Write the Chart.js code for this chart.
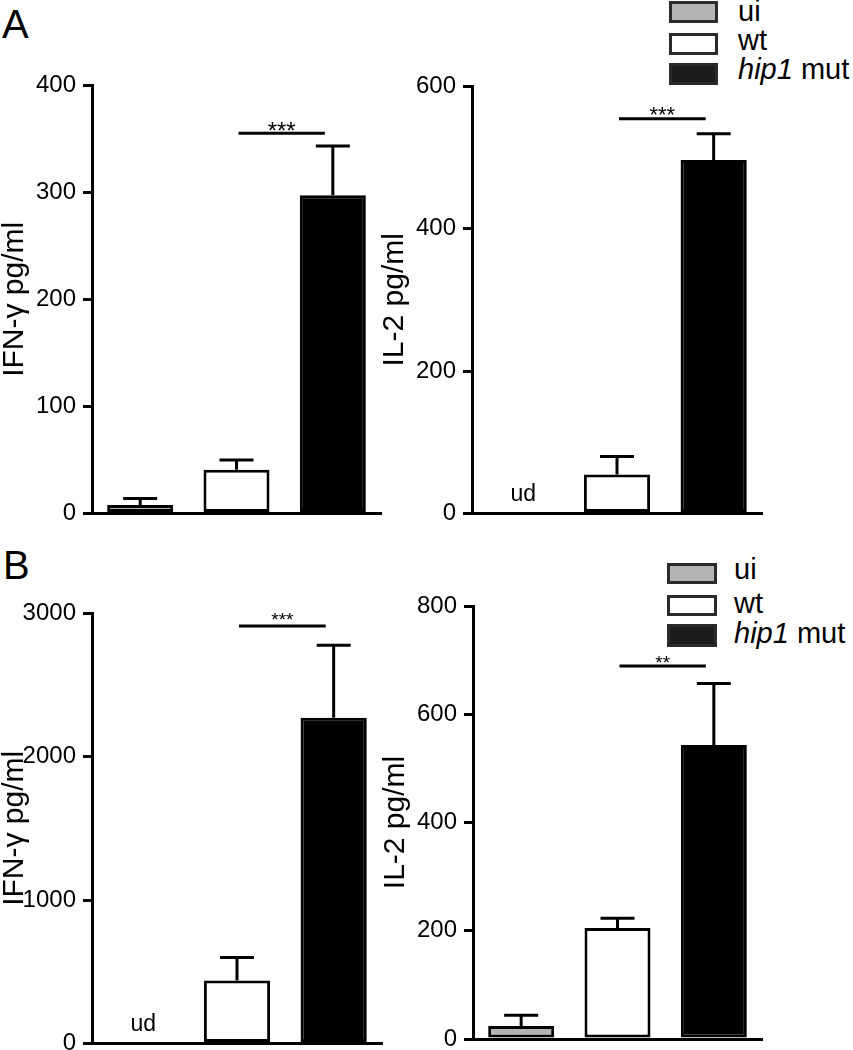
<!DOCTYPE html>
<html>
<head>
<meta charset="utf-8">
<script src="https://cdn.jsdelivr.net/npm/chart.js@4.4.0/dist/chart.umd.min.js"></script>
<style>
  body { margin: 0; width: 853px; height: 1050px; position: relative; overflow: hidden; background: #fff;
         font-family: "Liberation Sans", Arial, Helvetica, sans-serif; color: #000; }
  canvas { position: absolute; }
  .letter { position: absolute; font-size: 40px; line-height: 40px; }
  .lbox { position: absolute; box-sizing: border-box; border: 3px solid #2b2b2b; }
  .ltext { position: absolute; font-size: 29px; line-height: 29px; white-space: nowrap; }
</style>
</head>
<body>
<div class="letter" style="left:2px;top:4px">A</div>
<div class="letter" style="left:3px;top:545px">B</div>

<!-- legends -->
<div class="lbox" style="left:669px;top:1px;width:49px;height:22px;background:#b4b4b4"></div>
<div class="lbox" style="left:669px;top:33px;width:49px;height:22px;background:#fff"></div>
<div class="lbox" style="left:669px;top:63px;width:49px;height:22px;background:#1c1c1c"></div>
<div class="ltext" style="left:738px;top:-3px">ui</div>
<div class="ltext" style="left:738px;top:26px">wt</div>
<div class="ltext" style="left:738px;top:55px"><i>hip1</i> mut</div>

<div class="lbox" style="left:667px;top:563px;width:50px;height:21px;background:#b4b4b4"></div>
<div class="lbox" style="left:667px;top:595px;width:50px;height:21px;background:#fff"></div>
<div class="lbox" style="left:667px;top:624px;width:50px;height:23px;background:#1c1c1c"></div>
<div class="ltext" style="left:734px;top:555px">ui</div>
<div class="ltext" style="left:734px;top:589px">wt</div>
<div class="ltext" style="left:734px;top:619px"><i>hip1</i> mut</div>

<script>
// ─── Data ────────────────────────────────────────────────
const groups = ["ui", "wt", "hip1 mut"];

// panel A
const ifnA     = [8, 41, 297];
const ifnAErr  = [6, 9, 46];
const ifnATicks = [0, 100, 200, 300, 400];
const il2A     = [null, 55, 496];       // null = ud (undetected)
const il2AErr  = [null, 25, 37];
const il2ATicks = [0, 200, 400, 600];

// panel B
const ifnB     = [null, 440, 2270];
const ifnBErr  = [null, 160, 505];
const ifnBTicks = [0, 1000, 2000, 3000];
const il2B     = [24, 205, 543];
const il2BErr  = [20, 18, 114];
const il2BTicks = [0, 200, 400, 600, 800];

// significance bars: [from group, to group, height in axis units, label]
const sigIfnA = [1, 2, 355, "***"];
const sigIl2A = [1, 2, 554, "***"];
const sigIfnB = [1, 2, 2910, "***"];
const sigIl2B = [1, 2, 689, "**"];

// ─── Style ───────────────────────────────────────────────
const FONT = "'Liberation Sans', Arial, Helvetica, sans-serif";
const fills = ["#b4b4b4", "#ffffff", "#000000"];

// error bars, significance line, "ud" labels
const extras = {
  id: "extras",
  afterDatasetsDraw(chart, args, o) {
    const { ctx } = chart;
    const x = chart.scales.x, y = chart.scales.y;
    ctx.save();
    ctx.strokeStyle = "#000";
    ctx.fillStyle = "#000";
    ctx.lineWidth = 3;
    o.values.forEach((v, i) => {
      const cx = x.getPixelForValue(i);
      if (v === null) {
        ctx.font = "23px " + FONT;
        ctx.textAlign = "center";
        ctx.textBaseline = "alphabetic";
        ctx.fillText("ud", cx + 3, y.getPixelForValue(0) - 13);
        return;
      }
      const top = y.getPixelForValue(v + o.errors[i]);
      ctx.beginPath();
      ctx.moveTo(cx, y.getPixelForValue(v));
      ctx.lineTo(cx, top);
      ctx.moveTo(cx - 17, top);
      ctx.lineTo(cx + 17, top);
      ctx.stroke();
    });
    const [from, to, level, label] = o.sig;
    const ly = y.getPixelForValue(level);
    const x1 = x.getPixelForValue(from) + 2, x2 = x.getPixelForValue(to) - 8;
    ctx.beginPath();
    ctx.moveTo(x1, ly);
    ctx.lineTo(x2, ly);
    ctx.stroke();
    ctx.font = o.starSize + "px " + FONT;
    ctx.textAlign = "center";
    ctx.textBaseline = "alphabetic";
    ctx.fillText(label, (x1 + x2) / 2, ly - o.starGap + o.starSize * 0.56);
    ctx.restore();
  }
};

function makeChart(p) {
  const cv = document.createElement("canvas");
  cv.width = p.w;
  cv.height = p.h;
  cv.style.left = p.x + "px";
  cv.style.top = p.y + "px";
  document.body.appendChild(cv);

  new Chart(cv, {
    type: "bar",
    data: {
      labels: groups,
      datasets: [{
        data: p.values,
        backgroundColor: fills,
        borderColor: "#000",
        borderWidth: 3,
        borderSkipped: false,
        categoryPercentage: 1,
        barPercentage: 0.685
      }]
    },
    options: {
      responsive: false,
      animation: false,
      devicePixelRatio: 1,
      layout: { padding: { top: p.padTop, right: p.padRight, bottom: p.padBottom, left: 0 } },
      plugins: {
        legend: { display: false },
        tooltip: { enabled: false },
        extras: { values: p.values, errors: p.errors, sig: p.sig, starSize: p.starSize, starGap: p.starGap }
      },
      scales: {
        x: {
          grid: { display: false, drawTicks: false },
          ticks: { display: false },
          border: { display: true, color: "#000", width: 3 },
          afterFit: s => { s.height = 0; }
        },
        y: {
          min: 0,
          max: p.ticks[p.ticks.length - 1],
          afterBuildTicks: s => { s.ticks = p.ticks.map(v => ({ value: v })); },
          grid: { drawOnChartArea: false, drawTicks: true, tickLength: 9, color: "#000", lineWidth: 3 },
          border: { display: true, color: "#000", width: 3 },
          ticks: { color: "#000", padding: 7, font: { family: FONT, size: 24 }, callback: v => String(v) },
          title: { display: true, text: p.title, color: "#000",
                   font: { family: FONT, size: 30, lineHeight: 1 }, padding: 0 },
          afterFit: s => { s.width = 92; }
        }
      }
    },
    plugins: [extras]
  });
}

makeChart({ x: 0,   y: 0,   w: 400, h: 535, padTop: 85, padRight: 19, padBottom: 17,
  values: ifnA, errors: ifnAErr, ticks: ifnATicks, sig: sigIfnA, title: "IFN-γ pg/ml", starSize: 24, starGap: 8 });
makeChart({ x: 380, y: 0,   w: 400, h: 535, padTop: 86, padRight: 18, padBottom: 16,
  values: il2A, errors: il2AErr, ticks: il2ATicks, sig: sigIl2A, title: "IL-2 pg/ml", starSize: 22, starGap: 9 });
makeChart({ x: 0,   y: 540, w: 400, h: 525, padTop: 73, padRight: 18, padBottom: 19,
  values: ifnB, errors: ifnBErr, ticks: ifnBTicks, sig: sigIfnB, title: "IFN-γ pg/ml", starSize: 19, starGap: 11 });
makeChart({ x: 381, y: 540, w: 400, h: 525, padTop: 66, padRight: 19, padBottom: 26,
  values: il2B, errors: il2BErr, ticks: il2BTicks, sig: sigIl2B, title: "IL-2 pg/ml", starSize: 19, starGap: 8 });
</script>
</body>
</html>
